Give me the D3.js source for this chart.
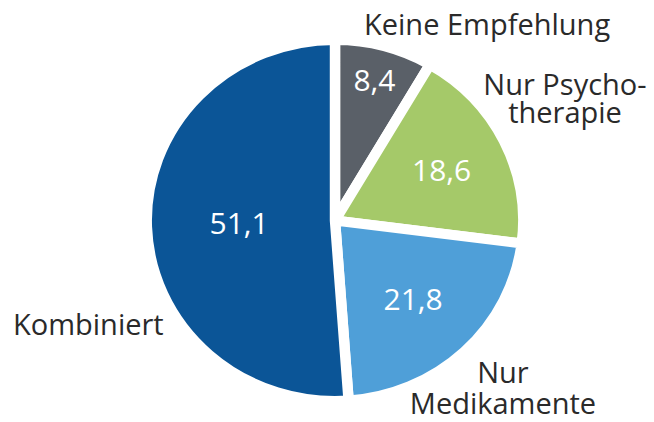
<!DOCTYPE html>
<html>
<head>
<meta charset="utf-8">
<script src="https://cdn.jsdelivr.net/npm/d3@7"></script>
<style>
  body { margin: 0; background: #fff; }
  svg text { font-family: "Open Sans", sans-serif; }
</style>
</head>
<body>
<div id="chart"></div>
<script>
// data
var categories = ["Keine Empfehlung", "Nur Psychotherapie", "Nur Medikamente", "Kombiniert"];
var values = [8.4, 18.6, 21.8, 51.1];
var valueLabels = ["8,4", "18,6", "21,8", "51,1"];
var nameLines = [["Keine Empfehlung"], ["Nur Psycho-", "therapie"], ["Nur", "Medikamente"], ["Kombiniert"]];

var colors = ["#5a6068", "#a5c969", "#4f9fd8", "#0b5597"];

var width = 654, height = 422;
var cx = 335, cy = 220.5, r = 175.5, sx = 1.043;

// where the value sits along the slice's middle angle
var labelR = [145, 114, 109, 92];
// category name placement
var namePos = [
  { x: 364, y: 35, anchor: "start", lh: 28 },
  { x: 565, y: 95, anchor: "middle", lh: 28 },
  { x: 503, y: 383, anchor: "middle", lh: 31 },
  { x: 13, y: 335, anchor: "start", lh: 28 }
];

var svg = d3.select("#chart").append("svg")
    .attr("width", width)
    .attr("height", height);

var pie = d3.pie().sort(null).value(function(d) { return d; });
var arcs = pie(values);

var arc = d3.arc().innerRadius(0).outerRadius(r + 5);

var g = svg.append("g")
    .attr("transform", "translate(" + cx + "," + cy + ") scale(" + sx + ",1)");

g.selectAll("path")
    .data(arcs)
    .enter()
    .append("path")
    .attr("d", arc)
    .attr("fill", function(d, i) { return colors[i]; })
    .attr("stroke", "#fff")
    .attr("stroke-width", 10)
    .attr("stroke-linejoin", "miter");

svg.selectAll("text.val")
    .data(arcs)
    .enter()
    .append("text")
    .attr("class", "val")
    .attr("x", function(d, i) {
        var a = (d.startAngle + d.endAngle) / 2;
        return cx + sx * labelR[i] * Math.sin(a);
    })
    .attr("y", function(d, i) {
        var a = (d.startAngle + d.endAngle) / 2;
        return cy - labelR[i] * Math.cos(a);
    })
    .attr("dy", "0.35em")
    .attr("text-anchor", "middle")
    .attr("fill", "#fff")
    .style("font-size", "30px")
    .text(function(d, i) { return valueLabels[i]; });

categories.forEach(function(c, i) {
    var p = namePos[i];
    nameLines[i].forEach(function(line, j) {
        svg.append("text")
            .attr("class", "name")
            .attr("x", p.x)
            .attr("y", p.y + j * p.lh)
            .attr("text-anchor", p.anchor)
            .attr("fill", "#2a2a2a")
            .style("font-size", "29px")
            .text(line);
    });
});
</script>
</body>
</html>
